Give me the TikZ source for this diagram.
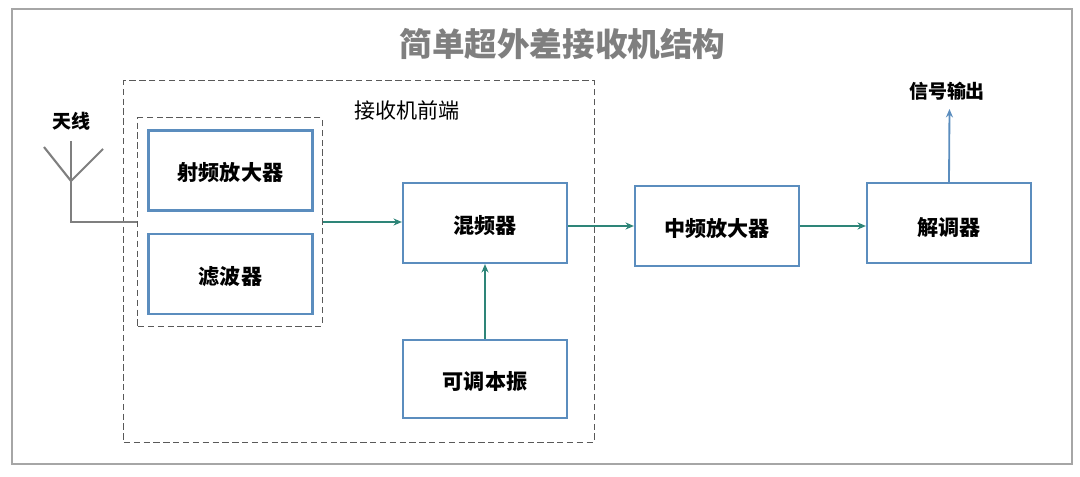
\documentclass[tikz,border=0pt]{standalone}
\usepackage{fontspec}
\setmainfont{Noto Sans CJK SC}
\usepackage{xcolor}
\usetikzlibrary{calc}
\usetikzlibrary{arrows.meta}
\definecolor{boxblue}{HTML}{5B8DBE}
\definecolor{arrowgreen}{HTML}{2E8578}
\definecolor{antgray}{HTML}{7F7F7F}
\tikzset{
    block/.style={draw=boxblue, line width=1.5pt, minimum width=4.1cm, minimum height=2cm, text height=16.5pt, text depth=2pt, font=\fontsize{15}{15}\selectfont\bfseries, text=black},
    signal/.style={draw=arrowgreen, line width=1.3pt, -{Stealth[length=6pt,width=5pt]}},
    antenna/.style={draw=antgray, line width=1.5pt},
    frontline/.style={draw=black!65, dash pattern=on 4.5pt off 2.5pt, line width=0.7pt}
}

\begin{document}
\begin{tikzpicture}[x=0.025cm, y=-0.025cm]       % one unit is one pixel of the reference
    \path[use as bounding box] (0, 0) rectangle (1080, 477);

    \node[draw=black!35, line width=1.4pt, minimum width=26.5cm, minimum height=11.375cm] at (542, 236.5) (frame) {};
    \node[text=antgray, font=\fontsize{23.2}{23.2}\selectfont\bfseries] at (562.5, 44) (title) {简单超外差接收机结构};

    \node[frontline, minimum width=11.75cm, minimum height=9.025cm] at (359, 261.5) (front) {};
    \node[frontline, minimum width=4.6cm, minimum height=5.2cm] at (230, 222) (rfgroup) {};
    \node[font=\fontsize{15}{15}\selectfont] at (407, 110) (frontlabel) {接收机前端};

    \node[block] at (230.5, 170.5) (rfamp) {射频放大器};
    \node[block] at (230.5, 274) (filter) {滤波器};
    \node[block] at (485, 223) (mix) {混频器};
    \node[block, minimum height=1.95cm] at (485, 379) (lo) {可调本振};
    \node[block] at (717, 226) (ifamp) {中频放大器};
    \node[block, text height=20pt] at (949, 223) (demod) {解调器};

    \node[font=\fontsize{13.5}{13.5}\selectfont\bfseries] at (947, 91) (output) {信号输出};
    \node[font=\fontsize{13.5}{13.5}\selectfont\bfseries] at (71, 121) (antlabel) {天线};

    % antenna
    \coordinate (tip) at (71, 141);
    \coordinate (fork) at (71, 181);
    \coordinate (armleft) at (44, 147);
    \coordinate (armright) at (103, 149);
    \coordinate (corner) at (71, 222);
    \draw[antenna] (tip) -- (fork) -- (corner) -- (rfgroup.west);
    \draw[antenna] (armleft) -- (fork) -- (armright);

    \draw[signal] (rfgroup.east) -- (rfgroup.east -| mix.west);
    \draw[signal] (lo.north) -- (mix.south);
    \draw[signal] (mix.east |- ifamp.west) -- (ifamp.west);
    \draw[signal] (ifamp.east) -- (demod.west |- ifamp.east);

    \coordinate (outend) at (949.5, 109);
    \draw[draw=boxblue, line width=1.3pt, -{Stealth[length=6pt,width=5pt]}] (demod.north) -- (outend);
\end{tikzpicture}
\end{document}
